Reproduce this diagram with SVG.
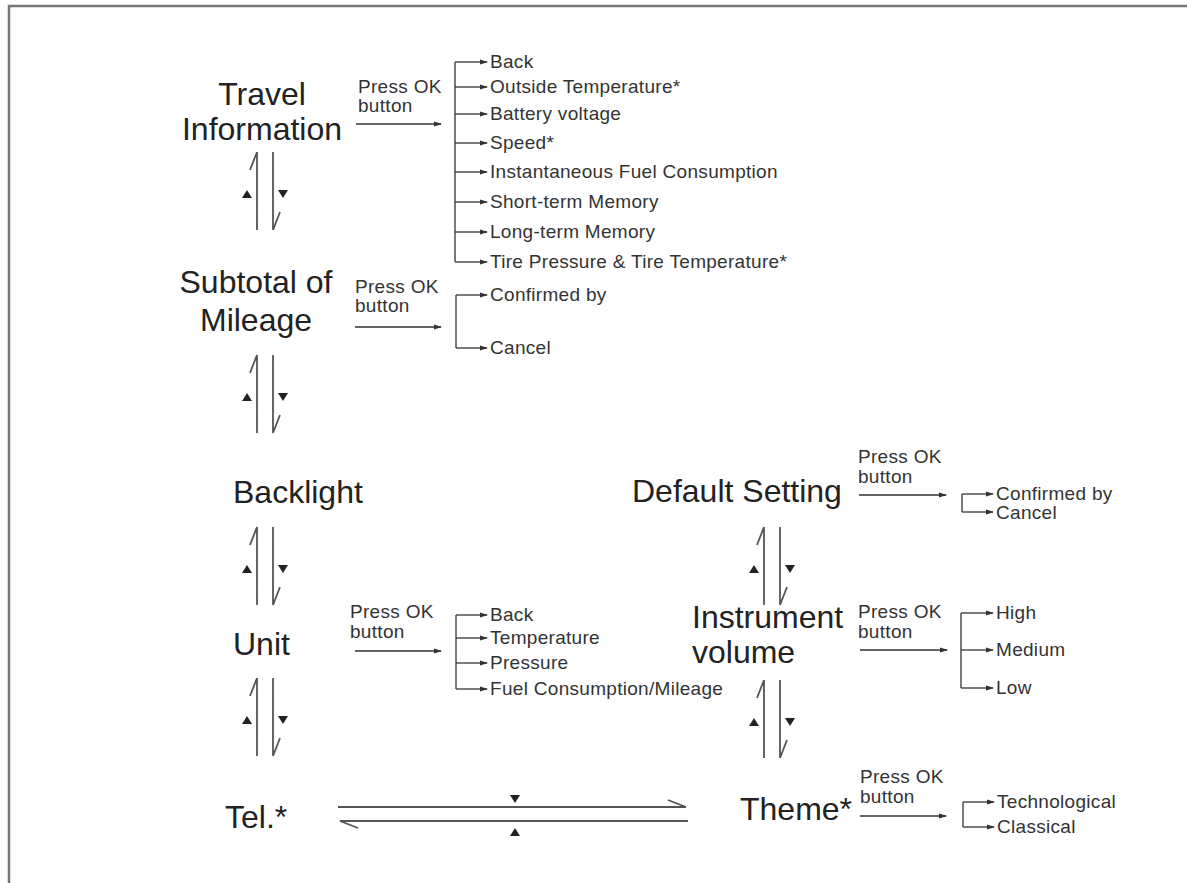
<svg xmlns="http://www.w3.org/2000/svg" width="1187" height="883" viewBox="0 0 1187 883">
<style>
.big{font-family:"Liberation Sans",Arial,sans-serif;font-size:32px;fill:#222}
.sm{font-family:"Liberation Sans",Arial,sans-serif;font-size:19px;fill:#333;letter-spacing:0.3px}
.ln{stroke:#333;stroke-width:1.3;fill:none}
.arr{stroke:#333;stroke-width:1.3;fill:none;marker-end:url(#ah)}
.pr{stroke:#555;stroke-width:1.8;fill:none}
.tri{fill:#222}
</style>
<defs>
<marker id="ah" viewBox="0 0 8 6" refX="7" refY="3" markerWidth="8" markerHeight="6" markerUnits="userSpaceOnUse" orient="auto">
<path d="M0,0.5 L8,3 L0,5.5 z" fill="#333"/>
</marker>
<g id="pair">
<path class="pr" d="M0,0 V78 M0,0 L-7,18 M16,0 V78 M16,78 L23,60"/>
<polygon class="tri" points="-15,46 -5,46 -10,38"/>
<polygon class="tri" points="21,38 31,38 26,46"/>
</g>
</defs>
<rect width="1187" height="883" fill="#fff"/>
<path d="M9,883 V6 H1187" stroke="#777" stroke-width="2.5" fill="none"/>

<g id="travel">
<text class="big" x="262" y="105" text-anchor="middle">Travel</text>
<text class="big" x="262" y="140" text-anchor="middle">Information</text>
</g>
<g id="travel-menu">
<text class="sm" x="490" y="68">Back</text>
<text class="sm" x="490" y="93">Outside Temperature*</text>
<text class="sm" x="490" y="120">Battery voltage</text>
<text class="sm" x="490" y="149">Speed*</text>
<text class="sm" x="490" y="178">Instantaneous Fuel Consumption</text>
<text class="sm" x="490" y="208">Short-term Memory</text>
<text class="sm" x="490" y="238">Long-term Memory</text>
<text class="sm" x="490" y="268">Tire Pressure &amp; Tire Temperature*</text>
</g>
<g id="subtotal">
<text class="big" x="256" y="293" text-anchor="middle">Subtotal of</text>
<text class="big" x="256" y="331" text-anchor="middle">Mileage</text>
</g>
<g id="subtotal-menu">
<text class="sm" x="490" y="301">Confirmed by</text>
<text class="sm" x="490" y="354">Cancel</text>
</g>
<g id="backlight">
<text class="big" x="233" y="503">Backlight</text>
</g>
<g id="unit">
<text class="big" x="233" y="655">Unit</text>
</g>
<g id="unit-menu">
<text class="sm" x="490" y="621">Back</text>
<text class="sm" x="490" y="644">Temperature</text>
<text class="sm" x="490" y="669">Pressure</text>
<text class="sm" x="490" y="695">Fuel Consumption/Mileage</text>
</g>
<g id="tel">
<text class="big" x="225" y="828">Tel.*</text>
</g>
<g id="default">
<text class="big" x="632" y="502">Default Setting</text>
</g>
<g id="default-menu">
<text class="sm" x="996" y="500">Confirmed by</text>
<text class="sm" x="996" y="519">Cancel</text>
</g>
<g id="volume">
<text class="big" x="692" y="628">Instrument</text>
<text class="big" x="692" y="663">volume</text>
</g>
<g id="volume-menu">
<text class="sm" x="996" y="619">High</text>
<text class="sm" x="996" y="656">Medium</text>
<text class="sm" x="996" y="694">Low</text>
</g>
<g id="theme">
<text class="big" x="740" y="820">Theme*</text>
</g>
<g id="theme-menu">
<text class="sm" x="997" y="808">Technological</text>
<text class="sm" x="997" y="833">Classical</text>
</g>

<g id="press-labels">
<text class="sm" x="358" y="93">Press OK</text>
<text class="sm" x="358" y="112">button</text>
<text class="sm" x="355" y="293">Press OK</text>
<text class="sm" x="355" y="312">button</text>
<text class="sm" x="350" y="618">Press OK</text>
<text class="sm" x="350" y="638">button</text>
<text class="sm" x="858" y="463">Press OK</text>
<text class="sm" x="858" y="483">button</text>
<text class="sm" x="858" y="618">Press OK</text>
<text class="sm" x="858" y="638">button</text>
<text class="sm" x="860" y="783">Press OK</text>
<text class="sm" x="860" y="803">button</text>
</g>

<g id="connectors">
<path class="arr" d="M356,124 H441"/>
<path class="ln" d="M455,62 V262"/>
<path class="arr" d="M455,62 H487"/>
<path class="arr" d="M455,87 H487"/>
<path class="arr" d="M455,114 H487"/>
<path class="arr" d="M455,143 H487"/>
<path class="arr" d="M455,172 H487"/>
<path class="arr" d="M455,202 H487"/>
<path class="arr" d="M455,232 H487"/>
<path class="arr" d="M455,262 H487"/>

<path class="arr" d="M355,327 H441"/>
<path class="ln" d="M456,295 V348"/>
<path class="arr" d="M456,295 H487"/>
<path class="arr" d="M456,348 H487"/>

<path class="arr" d="M355,651 H441"/>
<path class="ln" d="M456,615 V689"/>
<path class="arr" d="M456,615 H487"/>
<path class="arr" d="M456,638 H487"/>
<path class="arr" d="M456,663 H487"/>
<path class="arr" d="M456,689 H487"/>

<path class="arr" d="M859,495 H946"/>
<path class="ln" d="M962,494 V512"/>
<path class="arr" d="M962,494 H993"/>
<path class="arr" d="M962,512 H993"/>

<path class="arr" d="M860,650 H947"/>
<path class="ln" d="M961,613 V688"/>
<path class="arr" d="M961,613 H993"/>
<path class="arr" d="M961,650 H993"/>
<path class="arr" d="M961,688 H993"/>

<path class="arr" d="M860,816 H946"/>
<path class="ln" d="M963,802 V827"/>
<path class="arr" d="M963,802 H994"/>
<path class="arr" d="M963,827 H994"/>

<use href="#pair" x="257" y="152"/>
<use href="#pair" x="257" y="355"/>
<use href="#pair" x="257" y="527"/>
<use href="#pair" x="257" y="678"/>
<use href="#pair" x="764" y="527"/>
<use href="#pair" x="764" y="680"/>

<path class="pr" d="M338,807 H686 L668,800 M688,821 H340 L358,828"/>
<polygon class="tri" points="510,795 520,795 515,803"/>
<polygon class="tri" points="510,836 520,836 515,828"/>
</g>
</svg>
